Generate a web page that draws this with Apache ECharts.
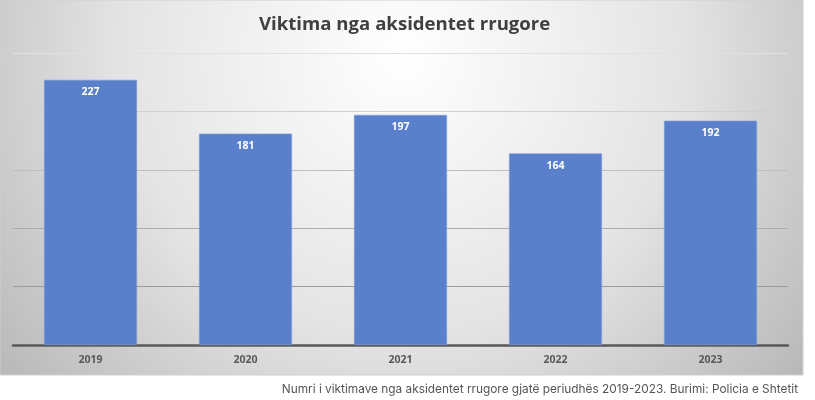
<!DOCTYPE html>
<html lang="sq">
<head>
<meta charset="UTF-8">
<script src="https://cdn.jsdelivr.net/npm/echarts@6/dist/echarts.min.js"></script>
<style>
  * { margin: 0; padding: 0; }
  body { background: #fff; }
  #main { width: 815px; height: 400px; }
</style>
</head>
<body>
<div id="main"></div>
<script>
  var years = ['2019', '2020', '2021', '2022', '2023'];
  var victims = [227, 181, 197, 164, 192];
  var yTicks = [0, 50, 100, 150, 200, 250];

  var myChart = echarts.init(document.getElementById('main'));

  var option = {
    backgroundColor: '#ffffff',
    animation: false,
    graphic: [
      {
        type: 'rect',
        z: -10,
        shape: { x: 0, y: 0, width: 803, height: 375 },
        style: {
          fill: new echarts.graphic.RadialGradient(0.5, 0.15, 1.35, [
            { offset: 0, color: '#ffffff' },
            { offset: 0.55, color: '#e4e4e4' },
            { offset: 1, color: '#b9b9b9' }
          ]),
          stroke: '#d0d0d0',
          lineWidth: 1
        }
      }
    ],
    title: [
      {
        text: 'Viktima nga aksidentet rrugore',
        left: 254,
        top: 10,
        textStyle: {
          fontFamily: 'Open Sans',
          fontSize: 18.6,
          fontWeight: 'bold',
          color: '#404040'
        }
      },
      {
        text: 'Numri i viktimave nga aksidentet rrugore gjatë periudhës 2019-2023. Burimi: Policia e Shtetit',
        right: 12,
        top: 378,
        textStyle: {
          fontFamily: 'Inter',
          fontSize: 11.85,
          fontWeight: 'normal',
          color: '#555555'
        }
      }
    ],
    grid: { left: 13, right: 27, top: 53, bottom: 55 },
    xAxis: {
      type: 'category',
      data: years,
      axisLine: { lineStyle: { color: '#595959', width: 2.5 } },
      axisTick: { show: false },
      axisLabel: {
        margin: 10,
        fontFamily: 'Open Sans',
        fontSize: 10.5,
        fontWeight: 'bold',
        color: '#595959'
      }
    },
    yAxis: {
      type: 'value',
      min: yTicks[0],
      max: yTicks[yTicks.length - 1],
      interval: yTicks[1] - yTicks[0],
      axisLabel: { show: false },
      axisLine: { show: false },
      axisTick: { show: false },
      splitLine: {
        lineStyle: {
          width: 1,
          color: new echarts.graphic.LinearGradient(0, 50, 0, 345, [
            { offset: 0, color: '#e2e2e2' },
            { offset: 1, color: '#8a8a8a' }
          ], true)
        }
      }
    },
    series: [
      {
        type: 'bar',
        data: victims,
        barWidth: '60%',
        itemStyle: { color: '#5a80cb', borderColor: '#7c9bd6', borderWidth: 0.6 },
        label: {
          show: true,
          position: 'insideTop',
          distance: 7,
          fontFamily: 'Open Sans',
          fontSize: 10.5,
          fontWeight: 'bold',
          color: '#ffffff'
        }
      }
    ]
  };

  myChart.setOption(option);
</script>
</body>
</html>
